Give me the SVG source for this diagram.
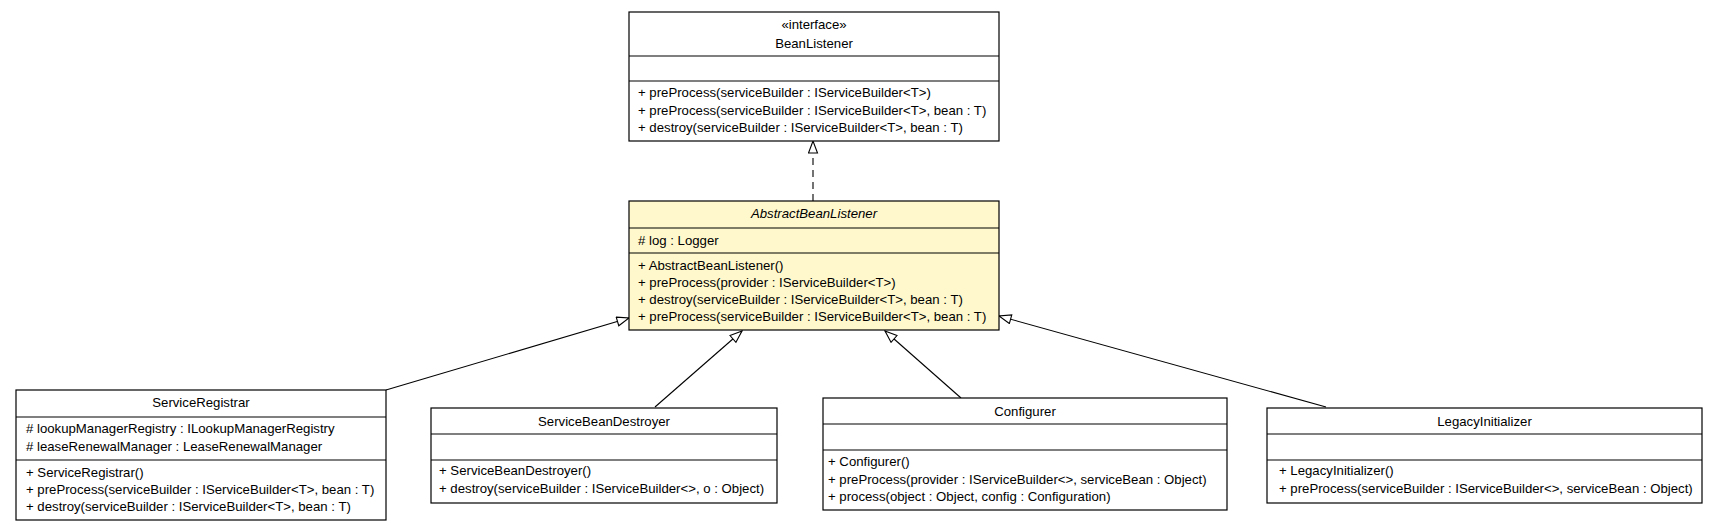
<svg xmlns="http://www.w3.org/2000/svg" width="1719" height="531" viewBox="0 0 1719 531">
<defs>
<style>
.box{fill:#ffffff;stroke:#000000;stroke-width:1.2}
.abs{fill:#fff8cc;stroke:#000000;stroke-width:1.2}
.sep{stroke:#000000;stroke-width:1.2}
text{font-family:"Liberation Sans",Arial,Helvetica,sans-serif;font-size:13.2px;fill:#000000}
.c{text-anchor:middle}
.i{font-style:italic}
.edge{fill:none;stroke:#000000;stroke-width:1.1}
.dash{stroke-dasharray:7,5}
</style>
<marker id="gen" viewBox="0 0 14 11" refX="13" refY="5" markerWidth="14" markerHeight="11" markerUnits="userSpaceOnUse" orient="auto">
<path d="M1,0.5 L13,5 L1,9.5 z" fill="#ffffff" stroke="#000000" stroke-width="1.1"/>
</marker>
</defs>
<rect width="1719" height="531" fill="#ffffff"/>
<g id="connectors">
<line class="edge dash" x1="813" y1="201" x2="813" y2="141" marker-end="url(#gen)"/>
<line class="edge" x1="386" y1="390" x2="629" y2="318" marker-end="url(#gen)"/>
<line class="edge" x1="655" y1="407" x2="742" y2="331" marker-end="url(#gen)"/>
<line class="edge" x1="961" y1="398" x2="885" y2="331" marker-end="url(#gen)"/>
<line class="edge" x1="1326" y1="407" x2="999" y2="316" marker-end="url(#gen)"/>
</g>
<g id="BeanListener">
<rect class="box" x="629" y="12" width="370" height="129"/>
<line class="sep" x1="629" y1="56" x2="999" y2="56"/>
<line class="sep" x1="629" y1="81" x2="999" y2="81"/>
<text class="c" x="814" y="28.5">«interface»</text>
<text class="c" x="814" y="47.5">BeanListener</text>
<text x="638" y="97">+ preProcess(serviceBuilder : IServiceBuilder&lt;T&gt;)</text>
<text x="638" y="114.5">+ preProcess(serviceBuilder : IServiceBuilder&lt;T&gt;, bean : T)</text>
<text x="638" y="132">+ destroy(serviceBuilder : IServiceBuilder&lt;T&gt;, bean : T)</text>
</g>
<g id="AbstractBeanListener">
<rect class="abs" x="629" y="201" width="370" height="129"/>
<line class="sep" x1="629" y1="228" x2="999" y2="228"/>
<line class="sep" x1="629" y1="253" x2="999" y2="253"/>
<text class="c i" x="814" y="218">AbstractBeanListener</text>
<text x="638" y="244.5"># log : Logger</text>
<text x="638" y="269.5">+ AbstractBeanListener()</text>
<text x="638" y="287">+ preProcess(provider : IServiceBuilder&lt;T&gt;)</text>
<text x="638" y="304">+ destroy(serviceBuilder : IServiceBuilder&lt;T&gt;, bean : T)</text>
<text x="638" y="320.5">+ preProcess(serviceBuilder : IServiceBuilder&lt;T&gt;, bean : T)</text>
</g>
<g id="ServiceRegistrar">
<rect class="box" x="16" y="390" width="370" height="130"/>
<line class="sep" x1="16" y1="417" x2="386" y2="417"/>
<line class="sep" x1="16" y1="460" x2="386" y2="460"/>
<text class="c" x="201" y="407">ServiceRegistrar</text>
<text x="26" y="433"># lookupManagerRegistry : ILookupManagerRegistry</text>
<text x="26" y="451"># leaseRenewalManager : LeaseRenewalManager</text>
<text x="26" y="477">+ ServiceRegistrar()</text>
<text x="26" y="494">+ preProcess(serviceBuilder : IServiceBuilder&lt;T&gt;, bean : T)</text>
<text x="26" y="511">+ destroy(serviceBuilder : IServiceBuilder&lt;T&gt;, bean : T)</text>
</g>
<g id="ServiceBeanDestroyer">
<rect class="box" x="431" y="408" width="346" height="95"/>
<line class="sep" x1="431" y1="434" x2="777" y2="434"/>
<line class="sep" x1="431" y1="460" x2="777" y2="460"/>
<text class="c" x="604" y="425.5">ServiceBeanDestroyer</text>
<text x="439" y="475">+ ServiceBeanDestroyer()</text>
<text x="439" y="493">+ destroy(serviceBuilder : IServiceBuilder&lt;&gt;, o : Object)</text>
</g>
<g id="Configurer">
<rect class="box" x="823" y="398" width="404" height="112"/>
<line class="sep" x1="823" y1="424" x2="1227" y2="424"/>
<line class="sep" x1="823" y1="450" x2="1227" y2="450"/>
<text class="c" x="1025" y="416">Configurer</text>
<text x="828" y="466">+ Configurer()</text>
<text x="828" y="484">+ preProcess(provider : IServiceBuilder&lt;&gt;, serviceBean : Object)</text>
<text x="828" y="501">+ process(object : Object, config : Configuration)</text>
</g>
<g id="LegacyInitializer">
<rect class="box" x="1267" y="408" width="435" height="95"/>
<line class="sep" x1="1267" y1="434" x2="1702" y2="434"/>
<line class="sep" x1="1267" y1="460" x2="1702" y2="460"/>
<text class="c" x="1484.5" y="425.5">LegacyInitializer</text>
<text x="1279" y="475">+ LegacyInitializer()</text>
<text x="1279" y="493">+ preProcess(serviceBuilder : IServiceBuilder&lt;&gt;, serviceBean : Object)</text>
</g>
</svg>
